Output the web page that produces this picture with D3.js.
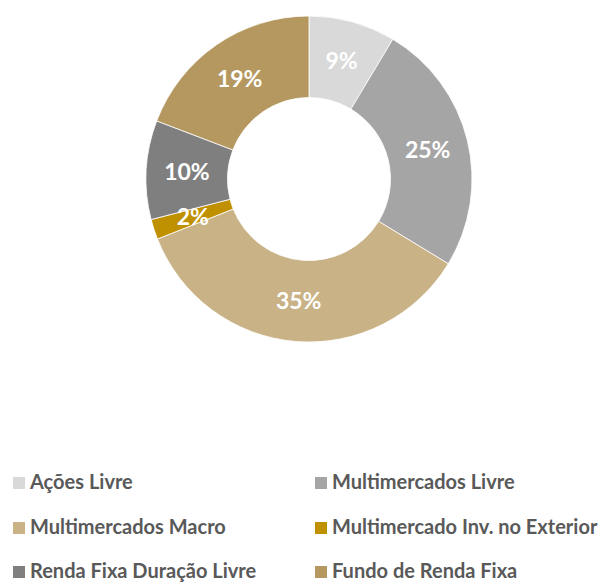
<!DOCTYPE html>
<html>
<head>
<meta charset="utf-8">
<script src="https://cdn.jsdelivr.net/npm/d3@7"></script>
<style>
  html, body { margin: 0; padding: 0; background: #fff; }
  svg { display: block; }
</style>
</head>
<body>
<svg id="chart" width="600" height="583"></svg>
<script>
/* Allocation donut — six categories, percent labels inside slices,
   two-column legend underneath. */

var categories = [
  "Ações Livre",
  "Multimercados Livre",
  "Multimercados Macro",
  "Multimercado Inv. no Exterior",
  "Renda Fixa Duração Livre",
  "Fundo de Renda Fixa"
];
var values = [8.6, 25.1, 35.3, 2.0, 9.8, 19.2];
var sliceColors = ["#d9d9d9", "#a5a5a5", "#c8b286", "#bf9000", "#7f7f7f", "#b5985f"];

var d3 = window.d3;
var svg = d3.select("#chart");

var cx = 309, cy = 179, rOuter = 163, rInner = 81.5;

var data = categories.map(function (c, i) {
  return { name: c, value: values[i], color: sliceColors[i] };
});

var pie = d3.pie().sort(null).value(function (d) { return d.value; });
var arc = d3.arc().innerRadius(rInner).outerRadius(rOuter);
var labelArc = d3.arc().innerRadius((rInner + rOuter) / 2).outerRadius((rInner + rOuter) / 2);

var g = svg.append("g").attr("transform", "translate(" + cx + "," + cy + ")");
var arcs = pie(data);

g.selectAll("path.slice").data(arcs).enter().append("path")
  .attr("class", "slice")
  .attr("d", arc)
  .attr("fill", function (d) { return d.data.color; })
  .attr("stroke", "#ffffff")
  .attr("stroke-width", 0.8);

g.selectAll("text.pct").data(arcs).enter().append("text")
  .attr("class", "pct")
  .attr("transform", function (d) {
    var p = labelArc.centroid(d);
    return "translate(" + p[0] + "," + p[1] + ")";
  })
  .attr("text-anchor", "middle")
  .attr("dy", "0.36em")
  .attr("fill", "#ffffff")
  .style("font-family", "Lato, 'Open Sans', sans-serif")
  .style("font-weight", "bold")
  .style("font-size", "23px")
  .text(function (d) { return Math.round(d.data.value) + "%"; });

// legend: 2 columns x 3 rows, square sits on the text baseline
var colX = [13, 315];
var rowY = [489, 534, 578];
var legend = svg.append("g");
data.forEach(function (d, i) {
  var x = colX[i % 2], y = rowY[Math.floor(i / 2)];
  var item = legend.append("g").attr("transform", "translate(" + x + "," + y + ")");
  item.append("rect")
    .attr("x", 0).attr("y", -12)
    .attr("width", 12).attr("height", 12)
    .attr("fill", d.color);
  item.append("text")
    .attr("x", 17).attr("y", 0)
    .attr("fill", "#595959")
    .style("font-family", "Lato, 'Open Sans', sans-serif")
    .style("font-weight", "bold")
    .style("font-size", "20px")
    .text(d.name);
});
</script>
</body>
</html>
